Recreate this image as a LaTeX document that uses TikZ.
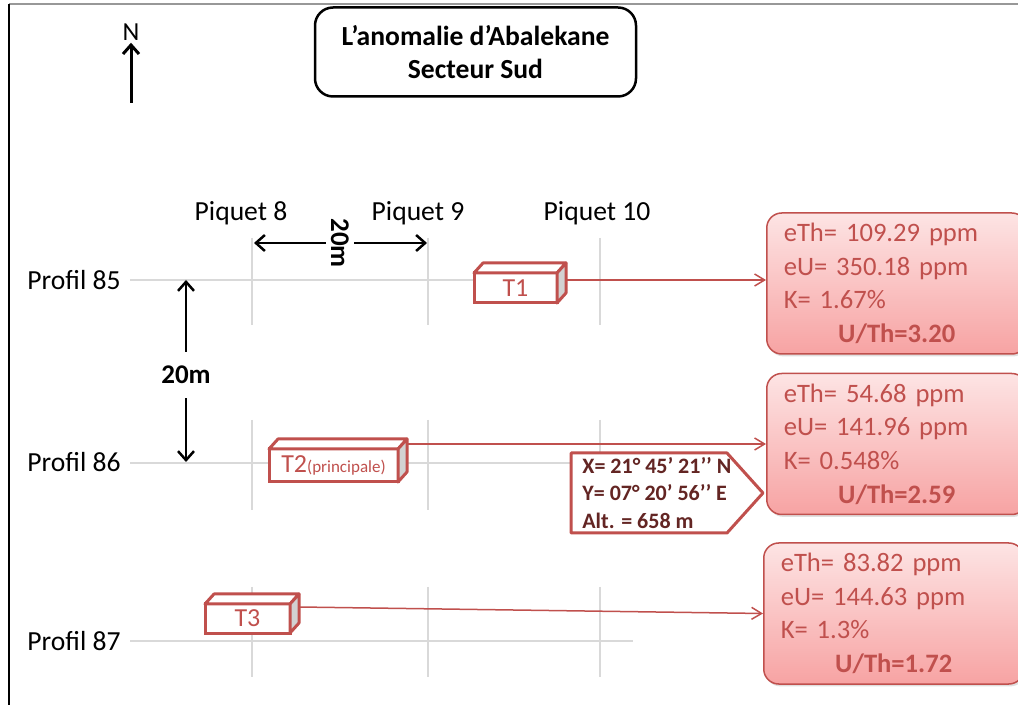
\documentclass[tikz,border=0pt]{standalone}
\usepackage{fontspec}
\setmainfont{Carlito}
\usetikzlibrary{arrows.meta,calc,shadows}

\definecolor{boxred}{RGB}{192,80,77}
\definecolor{gpsred}{RGB}{99,37,35}
\definecolor{infotop}{RGB}{253,228,228}
\definecolor{infobot}{RGB}{247,163,163}
\definecolor{gridgray}{RGB}{217,217,217}
\definecolor{sidegray}{RGB}{210,210,210}

\tikzset{
  gridline/.style={gridgray, line width=0.75pt},
  lbltext/.style={font=\fontsize{13.8}{15}\selectfont, inner sep=0pt},
  dimtext/.style={font=\bfseries\fontsize{13.5}{15}\selectfont, inner xsep=1pt},
  dimarrow/.style={line width=1.25pt, -{Straight Barb[length=4.5pt,width=8pt]}},
  titlebox/.style={draw, line width=1.25pt, rounded corners=9pt, minimum width=160.5pt,
    minimum height=44.5pt, align=center, font=\bfseries\fontsize{13.8}{16.5}\selectfont},
  tbox/.style={draw=boxred, line width=1.5pt, fill=white, text=boxred, outer sep=0pt,
    inner sep=0pt, font=\fontsize{13}{14}\selectfont},
  tface/.style={draw=boxred, line width=1.5pt, line join=round},
  infobox/.style={draw=boxred, line width=0.75pt, rounded corners=7.5pt,
    top color=infotop, bottom color=infobot, text=boxred,
    font=\fontsize{13.3}{16.8}\selectfont, text width=113pt, inner xsep=8.5pt,
    align=left, minimum height=70.5pt,
    drop shadow={opacity=0.25, shadow xshift=0.8pt, shadow yshift=-1.2pt}},
  link/.style={boxred, line width=0.75pt, -{Straight Barb[length=5pt,width=6pt]}},
  gpsbox/.style={draw=boxred, line width=1.5pt, fill=white, line join=round},
  gpstext/.style={text=gpsred, font=\bfseries\fontsize{11}{13.75}\selectfont,
    align=left, inner xsep=5.5pt},
}

\begin{document}
\begin{tikzpicture}[x=0.5pt, y=-0.5pt]
  \useasboundingbox (0,0) rectangle (1018,705);

  % frame
  \draw[gridgray!70!black, line width=0.75pt] (9,4) -- (1018,4);
  \draw[line width=0.75pt] (9,4) -- (9,705);

  % north arrow and title
  \node[font=\fontsize{13}{15}\selectfont, inner sep=1pt] (north) at (131,32) {N};
  \coordinate (nbase) at (131,103);
  \draw[dimarrow, line width=1.5pt] (nbase) -- (north);

  \node[titlebox] (title) at (475.5,52) {L’anomalie d’Abalekane\\Secteur Sud};

  % ----------------------------------------------------------------
  % grid: profils and piquets
  % ----------------------------------------------------------------
  \foreach \y/\ya/\yb/\xe in {280/238/325/703, 463/420/510/700, 641/587/677/633} {
    \draw[gridline] (130,\y) -- (\xe,\y);
    \foreach \x in {252,428,600}
      \draw[gridline] (\x,\ya) -- (\x,\yb);
  }

  \foreach \n/\y in {85/280, 86/462, 87/641}
    \node[lbltext, anchor=east] (p\n) at (121,\y) {Profil \n};
  \foreach \n/\x in {8/241, 9/418, 10/597}
    \node[lbltext] (q\n) at (\x,213) {Piquet \n};

  % spacing 20m
  \node[dimtext, rotate=-90, inner ysep=2.5pt] (h20) at (340,243) {20m};
  \coordinate (h8) at (254,243);
  \coordinate (h9) at (427,243);
  \draw[dimarrow] (h20) -- (h8);
  \draw[dimarrow] (h20) -- (h9);

  \node[dimtext, inner ysep=7pt] (v20) at (186,375) {20m};
  \coordinate (v85) at (186,280);
  \coordinate (v86) at (186,462);
  \draw[dimarrow] (v20) -- (v85);
  \draw[dimarrow] (v20) -- (v86);

  % ----------------------------------------------------------------
  % targets T1, T2, T3
  % ----------------------------------------------------------------
  \node[tbox, minimum width=41.5pt, minimum height=15pt] (t1) at (515.5,288) {T1};
  \node[tbox, minimum width=64.5pt, minimum height=16.5pt] (t2) at (333.5,465.5)
    {T2{\fontsize{8.5}{9}\selectfont(principale)}};
  \node[tbox, minimum width=42.5pt, minimum height=14.5pt] (t3) at (247.5,618.5) {T3};
  \foreach \t in {t1,t2,t3} {
    \draw[tface, fill=white] (\t.north west) -- ++(9,-10) -- ($(\t.north east)+(9,-10)$)
      -- (\t.north east) -- cycle;
    \draw[tface, fill=sidegray] (\t.north east) -- ++(9,-10) -- ($(\t.south east)+(9,-10)$)
      -- (\t.south east) -- cycle;
  }

  % ----------------------------------------------------------------
  % measured values
  % ----------------------------------------------------------------
  \node[infobox, anchor=west] (info1) at (766,283.5)
    {eTh= 109.29 ppm\\eU= 350.18 ppm\\K= 1.67\%\\\makebox[\linewidth]{\textbf{U/Th=3.20}}};
  \node[infobox, anchor=west] (info2) at (766,444)
    {eTh= 54.68 ppm\\eU= 141.96 ppm\\K= 0.548\%\\\makebox[\linewidth]{\textbf{U/Th=2.59}}};
  \node[infobox, anchor=west] (info3) at (763,613.5)
    {eTh= 83.82 ppm\\eU= 144.63 ppm\\K= 1.3\%\\\makebox[\linewidth]{\textbf{U/Th=1.72}}};

  \coordinate (t1s) at ($(t1.north east)+(9,7)$);
  \coordinate (t2s) at ($(t2.north east)+(9,-5)$);
  \coordinate (t3s) at ($(t3.north east)+(9,3)$);
  \draw[link] (t1s) -- (t1s -| info1.west);
  \draw[link] (t2s) -- (t2s -| info2.west);
  \draw[link] (t3s) -- (info3.west);

  % position of T2
  \coordinate (gpsw) at (571,493);
  \draw[gpsbox] ($(gpsw)+(0,-40)$) -- ++(156,0) -- ++(36,40) -- ++(-36,40) -- ++(-156,0) -- cycle;
  \node[gpstext, anchor=west] (gps) at (gpsw)
    {X= 21° 45’ 21’’ N\\Y= 07° 20’ 56’’ E\\Alt. = 658 m};

\end{tikzpicture}
\end{document}
